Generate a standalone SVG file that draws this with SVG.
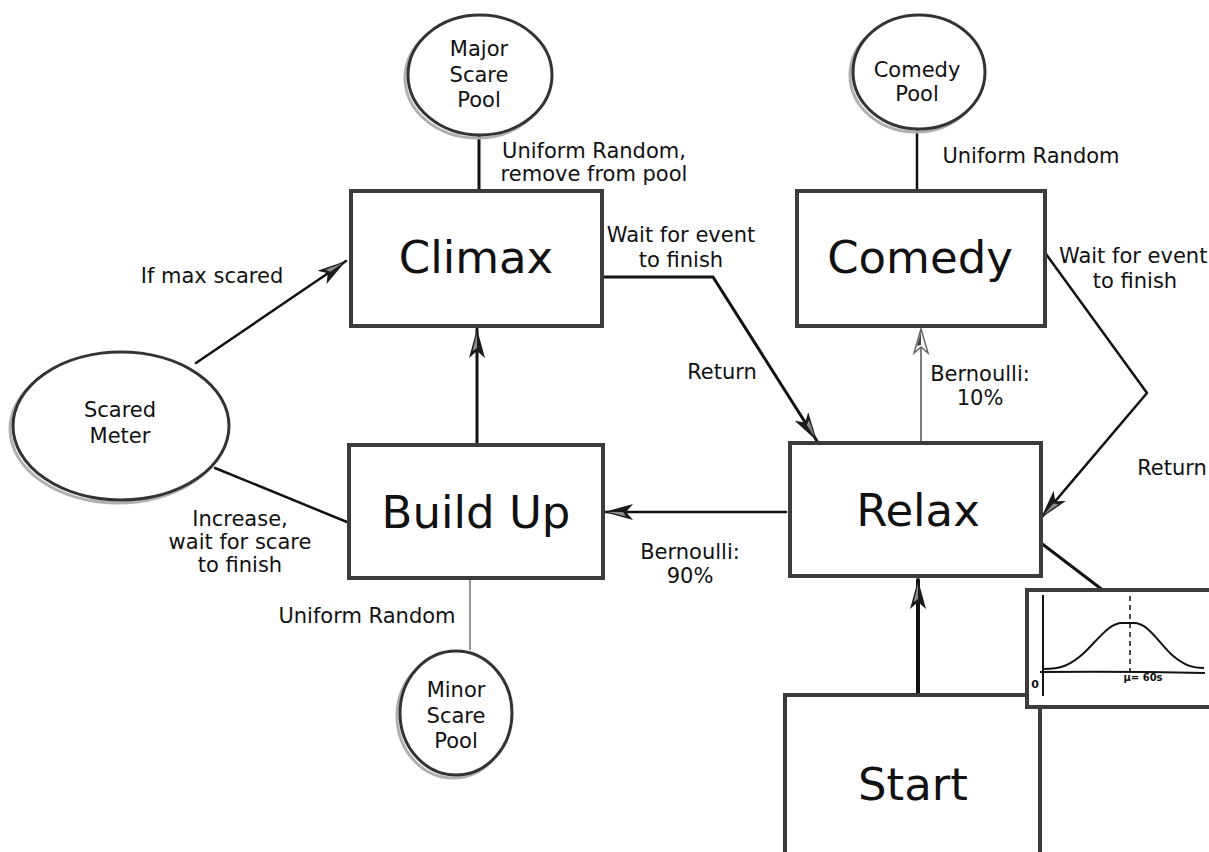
<svg xmlns="http://www.w3.org/2000/svg" width="1209" height="852" viewBox="0 0 1209 852">
<style>
.box{fill:#fff;stroke:#3c3c3c;stroke-width:4}
.ell{fill:#fff;stroke:#333;stroke-width:3}
.sh{fill:none;stroke:#b0b0b0;stroke-width:3}
.big{font-family:"DejaVu Sans",sans-serif;font-size:45px;fill:#111;text-anchor:middle}
.lbl{font-family:"DejaVu Sans",sans-serif;font-size:21px;fill:#111;text-anchor:middle}
.ln{fill:none;stroke:#111;stroke-linecap:round;stroke-linejoin:round}
</style>
<defs>
<marker id="ah" markerUnits="userSpaceOnUse" markerWidth="34" markerHeight="22" refX="31" refY="11" orient="auto">
<path d="M31,11 L2,3 L9,11 L2,19 Z" fill="#1a1a1a"/>
<path d="M27,11 L9,6.5 L12,11 Z" fill="#8a8a8a"/>
</marker>
<marker id="ahl" markerUnits="userSpaceOnUse" markerWidth="30" markerHeight="20" refX="27" refY="10" orient="auto">
<path d="M27,10 L3,3 L9,10 L3,17 Z" fill="#fff" stroke="#666" stroke-width="1.5"/>
<path d="M24,10 L10,6 L11,10 Z" fill="#444"/>
</marker>
</defs>
<rect width="1209" height="852" fill="#fff"/>

<g id="connectors">
<line class="ln" x1="479" y1="135" x2="479" y2="191" stroke-width="3"/>
<line class="ln" x1="917" y1="130" x2="917" y2="191" stroke-width="2.5"/>
<line class="ln" x1="196" y1="363" x2="346" y2="261" stroke-width="2.5" marker-end="url(#ah)"/>
<line class="ln" x1="215" y1="468" x2="347" y2="522" stroke-width="2.5"/>
<line class="ln" x1="477" y1="443" x2="477" y2="329" stroke-width="3" marker-end="url(#ah)"/>
<polyline class="ln" points="604,277 713,277 817,441" stroke-width="3" marker-end="url(#ah)"/>
<polyline class="ln" points="1046,254 1147,393 1041,518" stroke-width="2.5" marker-end="url(#ah)"/>
<line x1="921" y1="442" x2="921" y2="329" stroke="#707070" stroke-width="1.8" marker-end="url(#ahl)"/>
<line class="ln" x1="786" y1="512" x2="604" y2="512" stroke="#333" stroke-width="2.5" marker-end="url(#ah)"/>
<line x1="470" y1="580" x2="470" y2="650" stroke="#707070" stroke-width="1.5"/>
<line class="ln" x1="918" y1="694" x2="918" y2="580" stroke-width="4" marker-end="url(#ah)"/>
<line class="ln" x1="1041" y1="543" x2="1104" y2="591" stroke-width="3"/>
</g>

<g id="labels">
<text class="lbl" x="594" y="158">Uniform Random,</text>
<text class="lbl" x="594" y="181">remove from pool</text>
<text class="lbl" x="1031" y="163">Uniform Random</text>
<text class="lbl" x="212" y="283">If max scared</text>
<text class="lbl" x="681" y="242">Wait for event</text>
<text class="lbl" x="681" y="267">to finish</text>
<text class="lbl" x="1059" y="263" style="text-anchor:start">Wait for event</text>
<text class="lbl" x="1135" y="288">to finish</text>
<text class="lbl" x="722" y="379">Return</text>
<text class="lbl" x="980" y="381">Bernoulli:</text>
<text class="lbl" x="980" y="405">10%</text>
<text class="lbl" x="1172" y="475">Return</text>
<text class="lbl" x="690" y="559">Bernoulli:</text>
<text class="lbl" x="690" y="583">90%</text>
<text class="lbl" x="240" y="526">Increase,</text>
<text class="lbl" x="240" y="549">wait for scare</text>
<text class="lbl" x="240" y="572">to finish</text>
<text class="lbl" x="367" y="623">Uniform Random</text>
</g>

<g id="major-scare-pool">
<ellipse class="sh" cx="477" cy="78" rx="72" ry="60"/>
<ellipse class="ell" cx="480" cy="75" rx="72" ry="60"/>
<text class="lbl" x="479" y="56">Major</text>
<text class="lbl" x="479" y="82">Scare</text>
<text class="lbl" x="479" y="107">Pool</text>
</g>

<g id="comedy-pool">
<ellipse class="sh" cx="916" cy="75" rx="66" ry="57"/>
<ellipse class="ell" cx="919" cy="72" rx="66" ry="57"/>
<text class="lbl" x="917" y="77">Comedy</text>
<text class="lbl" x="917" y="101">Pool</text>
</g>

<g id="scared-meter">
<ellipse class="sh" cx="118" cy="429" rx="108" ry="74"/>
<ellipse class="ell" cx="121" cy="426" rx="108" ry="74"/>
<text class="lbl" x="120" y="417">Scared</text>
<text class="lbl" x="120" y="443">Meter</text>
</g>

<g id="minor-scare-pool">
<ellipse class="sh" cx="453" cy="716" rx="56" ry="62"/>
<ellipse class="ell" cx="456" cy="713" rx="56" ry="62"/>
<text class="lbl" x="456" y="697">Minor</text>
<text class="lbl" x="456" y="723">Scare</text>
<text class="lbl" x="456" y="748">Pool</text>
</g>

<g id="climax">
<rect class="box" x="351" y="191" width="251" height="135"/>
<text class="big" x="476" y="273">Climax</text>
</g>

<g id="comedy">
<rect class="box" x="797" y="191" width="248" height="135"/>
<text class="big" x="920" y="273">Comedy</text>
</g>

<g id="build-up">
<rect class="box" x="349" y="445" width="254" height="133"/>
<text class="big" x="476" y="528">Build Up</text>
</g>

<g id="relax">
<rect class="box" x="790" y="443" width="251" height="133"/>
<text class="big" x="918" y="526">Relax</text>
</g>

<g id="start">
<rect class="box" x="785" y="695" width="255" height="200"/>
<text class="big" x="913" y="800">Start</text>
</g>

<g id="distribution">
<rect class="box" x="1027" y="590" width="200" height="117"/>
<line x1="1043" y1="595" x2="1043" y2="696" stroke="#111" stroke-width="2"/>
<path d="M1040,672 Q1120,671 1205,673" fill="none" stroke="#111" stroke-width="2"/>
<line x1="1130" y1="596" x2="1130" y2="672" stroke="#111" stroke-width="1.5" stroke-dasharray="5,4"/>
<path d="M1043,669 C1060,669 1070,666 1085,652 C1100,637 1110,623 1122,623 L1134,623 C1148,623 1158,642 1172,655 C1185,666 1193,668 1204,668" fill="none" stroke="#111" stroke-width="2"/>
<text x="1035" y="688" font-family="DejaVu Sans,sans-serif" font-size="11" font-weight="bold" fill="#111" text-anchor="middle">0</text>
<text x="1143" y="681" font-family="DejaVu Sans,sans-serif" font-size="10" font-weight="bold" fill="#111" text-anchor="middle">μ= 60s</text>
</g>
</svg>
